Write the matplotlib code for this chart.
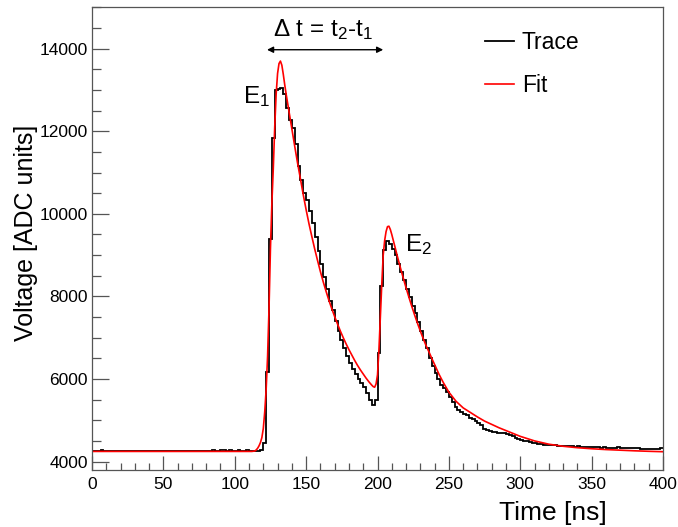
import numpy as np
import matplotlib
matplotlib.use("Agg")
import matplotlib.pyplot as plt
from matplotlib.lines import Line2D

plt.rcParams['font.family'] = ['Liberation Sans', 'DejaVu Sans']
plt.rcParams['mathtext.default'] = 'regular'

# ---------------- data ----------------
bin_width_ns = 2.0
# trace (ADC counts per 2 ns bin, bins from 0 to 400 ns)
trace_voltage = [
    # 0 - 118 ns
    4250, 4250, 4260, 4270, 4250, 4250, 4250, 4250, 4250, 4250,
    4250, 4250, 4250, 4250, 4250, 4250, 4250, 4265, 4250, 4250,
    4250, 4250, 4250, 4250, 4250, 4250, 4250, 4250, 4250, 4250,
    4250, 4250, 4250, 4250, 4265, 4265, 4250, 4250, 4260, 4250,
    4250, 4265, 4270, 4260, 4265, 4270, 4275, 4265, 4270, 4260,
    4265, 4270, 4260, 4265, 4275, 4260, 4250, 4260, 4255,
    # 118 - 400 ns
    4270, 4460, 6180, 9390, 11830, 13000, 13030, 13060, 12900, 12560,
    12280, 12080, 11700, 11170, 10830, 10500, 10340, 10070, 9790, 9430,
    9100, 8780, 8480, 8180, 7900, 7660, 7400, 7170, 6950, 6750,
    6560, 6380, 6250, 6130, 6010, 5900, 5800, 5650, 5500, 5370,
    5490, 6620, 8240, 9130, 9330, 9280, 9150, 9000, 8780, 8580,
    8400, 8170, 7990, 7760, 7590, 7380, 7170, 6950, 6760, 6520,
    6320, 6140, 5990, 5860, 5780, 5690, 5570, 5450, 5330, 5250,
    5210, 5150, 5120, 5060, 5030, 4970, 4930, 4880, 4800, 4760,
    4730, 4720, 4710, 4690, 4680, 4680, 4670, 4650, 4610, 4570,
    4540, 4520, 4500, 4490, 4470, 4460, 4440, 4430, 4420, 4410,
    4405, 4400, 4390, 4395, 4380, 4380, 4375, 4370, 4375, 4365,
    4360, 4365, 4360, 4350, 4355, 4345, 4350, 4345, 4345, 4340,
    4345, 4335, 4340, 4340, 4335, 4345, 4335, 4330, 4335, 4330,
    4325, 4330, 4320, 4315, 4310, 4300, 4295, 4305, 4310, 4315, 4335,
]

fit_time = [
    0, 110, 112, 114, 115, 116, 117, 118, 119, 120,
    121, 122, 123, 124, 125, 126, 127, 128, 129, 130,
    131, 132, 133, 134, 135, 136, 138, 140, 142, 144,
    146, 148, 150, 152, 154, 156, 158, 160, 162, 164,
    166, 168, 170, 172, 174, 176, 178, 180, 182, 184,
    186, 188, 190, 192, 194, 196, 197, 198, 199, 200,
    201, 202, 203, 204, 205, 206, 207, 208, 209, 210,
    212, 214, 216, 218, 220, 222, 224, 226, 228, 230,
    232, 234, 236, 238, 240, 243, 246, 250, 255, 260,
    265, 270, 275, 280, 285, 290, 295, 300, 310, 320,
    330, 340, 350, 360, 370, 380, 390, 400,
]
fit_voltage = [
    4245, 4245, 4245, 4255, 4280, 4320, 4380, 4460, 4580, 4800,
    5200, 5750, 6550, 7700, 9150, 10250, 11100, 12100, 12900, 13400,
    13640, 13700, 13600, 13380, 13130, 12900, 12480, 12060, 11640, 11230,
    10850, 10460, 10100, 9760, 9450, 9150, 8870, 8600, 8350, 8120,
    7900, 7700, 7510, 7330, 7160, 7000, 6850, 6710, 6580, 6450,
    6330, 6220, 6120, 6020, 5930, 5850, 5815, 5800, 5880, 6100,
    6700, 7500, 8300, 9000, 9350, 9570, 9690, 9700, 9620, 9500,
    9230, 8960, 8700, 8450, 8210, 7980, 7760, 7550, 7350, 7160,
    6980, 6810, 6660, 6500, 6350, 6120, 5920, 5680, 5460, 5300,
    5190, 5080, 4980, 4900, 4820, 4750, 4680, 4610, 4500, 4420,
    4370, 4335, 4310, 4290, 4275, 4260, 4248, 4238,
]

# annotation anchors (data coordinates)
t1, t2 = 122.6, 204.0
arrow_level = 13975

# ---------------- figure ----------------
W, H = 678, 527
fig = plt.figure(figsize=(W / 100, H / 100), dpi=100)
ax = fig.add_axes([92 / W, 1 - 470 / H, (663 - 92) / W, (470 - 7) / H])

edges = np.arange(len(trace_voltage) + 1) * bin_width_ns
ax.stairs(trace_voltage, edges, color='black', lw=1.3, baseline=None)
ax.plot(fit_time, fit_voltage, color='#ff0000', lw=1.2)

ax.set_xlim(0, 400)
ax.set_ylim(3795, 15010)

frame_col = '#555555'
for s in ax.spines.values():
    s.set_color(frame_col)
    s.set_linewidth(0.9)

ax.set_xticks(np.arange(0, 401, 50))
ax.set_xticks(np.arange(0, 401, 10), minor=True)
ax.set_yticks(np.arange(4000, 14001, 2000))
ax.set_yticks(np.arange(4000, 15001, 500), minor=True)
ax.tick_params(axis='both', which='both', direction='in', top=False, right=False,
               color=frame_col, width=0.9, labelsize=12.5, labelcolor='black')
ax.tick_params(axis='x', which='major', length=10, pad=5)
ax.tick_params(axis='x', which='minor', length=5)
ax.tick_params(axis='y', which='major', length=12, pad=3)
ax.tick_params(axis='y', which='minor', length=6.5)

fig.text(607 / W, 1 - 520 / H, 'Time [ns]', ha='right', va='baseline', fontsize=19)
fig.text(26 / W, 1 - 125 / H, 'Voltage [ADC units]', rotation=90,
         ha='center', va='top', fontsize=18)

# legend
handles = [Line2D([], [], color='black', lw=1.3), Line2D([], [], color='#ff0000', lw=1.2)]
ax.legend(handles, ['Trace', 'Fit'], loc='upper left', bbox_to_anchor=(0.688, 0.948),
          frameon=False, fontsize=16.5, handlelength=1.27, handletextpad=0.35,
          labelspacing=0.85, borderpad=0, borderaxespad=0)

# annotations
ax.text(105.5, 12690, 'E$_1$', fontsize=17.5, ha='left', va='baseline')
ax.text(219.3, 9086, 'E$_2$', fontsize=17.5, ha='left', va='baseline')
ax.text(161.8, 14314, 'Δ t = t$_2$-t$_1$', fontsize=17.5, ha='center', va='baseline')
ax.annotate('', xy=(t1, arrow_level), xytext=(t2, arrow_level),
            arrowprops=dict(arrowstyle='<|-|>', color='black', lw=1.0,
                            mutation_scale=9, shrinkA=0, shrinkB=0))

fig.savefig('out.png', dpi=100)
